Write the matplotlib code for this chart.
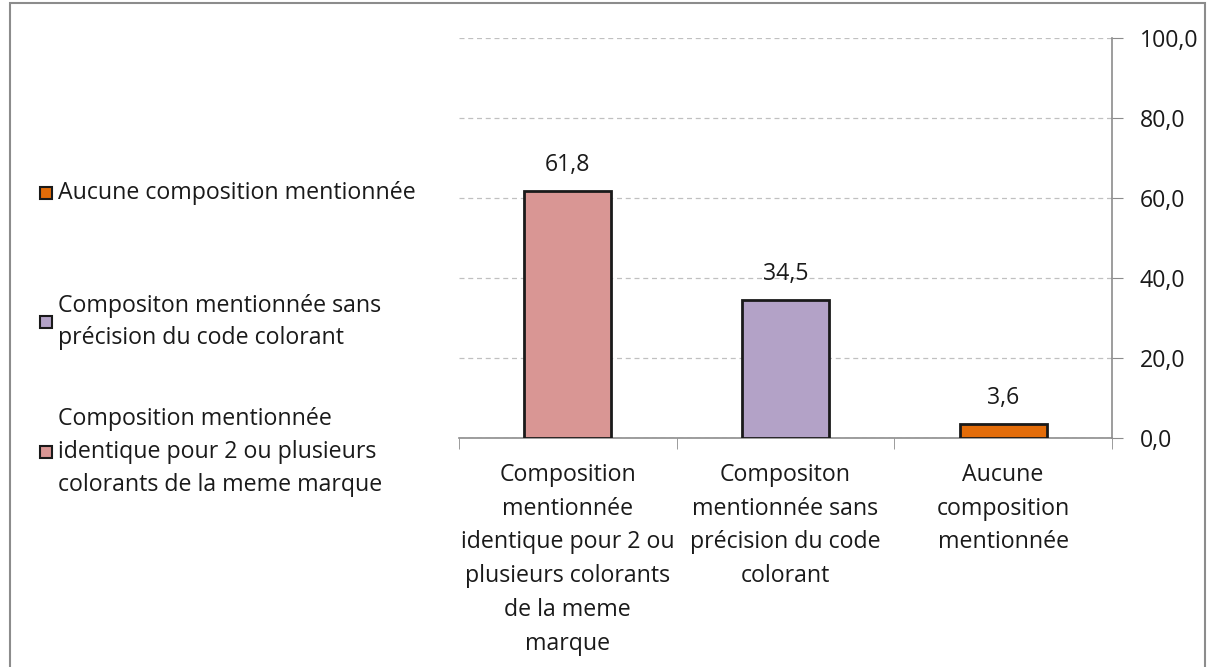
import matplotlib.pyplot as plt
from matplotlib.patches import Rectangle
from matplotlib.ticker import FuncFormatter
import numpy as np

# data
categories = ["Composition\nmentionnée\nidentique pour 2 ou\nplusieurs colorants\nde la meme\nmarque",
              "Compositon\nmentionnée sans\nprécision du code\ncolorant",
              "Aucune\ncomposition\nmentionnée"]
legend_labels = ["Composition mentionnée\nidentique pour 2 ou plusieurs\ncolorants de la meme marque",
                 "Compositon mentionnée sans\nprécision du code colorant",
                 "Aucune composition mentionnée"]
values = [61.8, 34.5, 3.6]
colors = ["#D99694", "#B3A2C7", "#E36C09"]
yticks = [0, 20, 40, 60, 80, 100]

plt.rcParams['font.family'] = ['Open Sans', 'DejaVu Sans']
fs = 16.7
ls = 1.54
txt = "#1a1a1a"

fig = plt.figure(figsize=(12.07, 6.67), dpi=100)
ax = fig.add_axes([459/1207, 1-438/667, (1112-459)/1207, 400/667])

x = np.arange(len(values))
ax.bar(x, values, width=0.4, color=colors, edgecolor="#1a1a1a", linewidth=2, zorder=3)
for xi, v in zip(x, values):
    ax.annotate(f"{v:.1f}".replace(".", ","), (xi, v), xytext=(0, 10), textcoords="offset points",
                ha="center", va="bottom", fontsize=fs, color=txt)

ax.set_xlim(-0.5, 2.5)
ax.set_ylim(0, 100)
ax.yaxis.tick_right()
ax.set_yticks(yticks)
ax.yaxis.set_major_formatter(FuncFormatter(lambda v, p: f"{v:.1f}".replace(".", ",")))
ax.tick_params(axis="y", direction="out", length=8, color="#8c8c8c", labelsize=fs, pad=12, labelcolor=txt)
ax.grid(axis="y", linestyle=(0, (4, 3)), color="#c0c0c0", linewidth=0.9, zorder=0)

ax.set_xticks(x)
ax.set_xticklabels(categories, fontsize=fs, linespacing=ls, color=txt)
ax.set_xticks([-0.5, 0.5, 1.5, 2.5], minor=True)
ax.tick_params(axis="x", which="major", length=0, pad=18)
ax.tick_params(axis="x", which="minor", direction="out", length=8, color="#8c8c8c")

for s in ["top", "left"]:
    ax.spines[s].set_visible(False)
for s in ["right", "bottom"]:
    ax.spines[s].set_color("#8c8c8c")
    ax.spines[s].set_linewidth(1.2)

# legend, drawn by hand (entries evenly spaced by centre, reversed order)
leg_y = [452, 322, 193]
for lab, c, yy in zip(legend_labels, colors, leg_y):
    fy = 1 - yy/667
    fig.patches.append(Rectangle((40/1207, fy - 6/667), 12/1207, 12/667, transform=fig.transFigure,
                                 facecolor=c, edgecolor="#1a1a1a", linewidth=1.5))
    fig.text(58/1207, fy, lab, fontsize=fs, va="center", ha="left", linespacing=ls * 0.96, color=txt)

# outer frame
fig.patches.append(Rectangle((10/1207, -0.05), 1195/1207, 1.05 - 3/667, transform=fig.transFigure,
                             fill=False, edgecolor="#8c8c8c", linewidth=1.5))

fig.savefig("out.png", dpi=100)
